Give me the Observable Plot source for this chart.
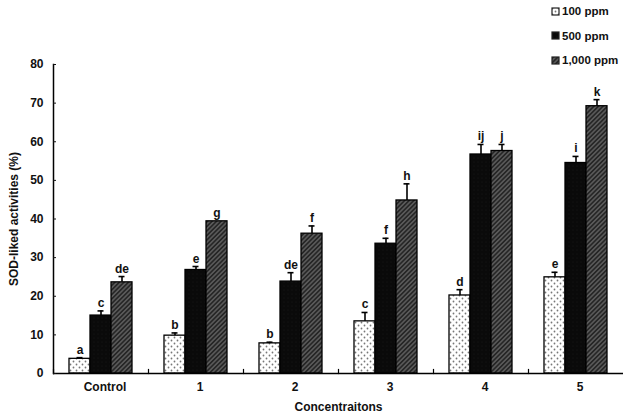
<!DOCTYPE html>
<html>
<head>
<meta charset="utf-8">
<script src="https://cdn.jsdelivr.net/npm/d3@7"></script>
<script src="https://cdn.jsdelivr.net/npm/@observablehq/plot@0.6"></script>
<style>
  html, body { margin: 0; padding: 0; background: #fff; }
  #wrap { position: relative; width: 627px; height: 418px; font-family: "Liberation Sans", Arial, sans-serif; }
  #legend { position: absolute; left: 551px; top: 3px; font-size: 11.5px; font-weight: bold; color: #111; }
  #legend .row { display: flex; align-items: center; height: 16px; margin-bottom: 8.5px; }
  #legend svg { margin-right: 2px; }
</style>
</head>
<body>
<div id="wrap"><div id="chart"></div><div id="legend"></div></div>
<script>
const groups = ["Control", "1", "2", "3", "4", "5"];
const series = ["100 ppm", "500 ppm", "1,000 ppm"];
const yTicks = [0, 10, 20, 30, 40, 50, 60, 70, 80];

const val100  = [3.8, 9.8, 7.8, 13.5, 20.2, 24.9];
const val500  = [15.0, 26.8, 23.8, 33.6, 56.7, 54.5];
const val1000 = [23.6, 39.4, 36.2, 44.8, 57.6, 69.2];

const err100  = [0.3, 0.7, 0.3, 2.3, 1.5, 1.3];
const err500  = [1.2, 0.9, 2.3, 1.4, 2.6, 1.7];
const err1000 = [1.5, 0.0, 2.0, 4.3, 1.7, 1.7];

const let100  = ["a", "b", "b", "c", "d", "e"];
const let500  = ["c", "e", "de", "f", "ij", "i"];
const let1000 = ["de", "g", "f", "h", "j", "k"];

const patternIds = ["p100", "p500", "p1000"];

const vals = [val100, val500, val1000];
const errs = [err100, err500, err1000];
const lets = [let100, let500, let1000];
const rows = [];
groups.forEach((g, gi) => series.forEach((s, si) => rows.push({
  group: g, series: s, value: vals[si][gi], err: errs[si][gi], letter: lets[si][gi], fill: `url(#${patternIds[si]})`
})));

const chart = Plot.plot({
  width: 627,
  height: 418,
  marginLeft: 53,
  marginRight: 4,
  marginTop: 64,
  marginBottom: 45,
  style: {fontFamily: "'Liberation Sans', Arial, sans-serif", fontSize: "11px", fontWeight: "bold", color: "#111", background: "#fff"},
  fx: {domain: groups, padding: 0},
  x: {domain: series, paddingInner: 0, paddingOuter: 0.74, axis: null},
  y: {domain: [0, 80]},
  color: {type: "identity"},
  marks: [
    Plot.barY(rows, {fx: "group", x: "series", y: "value", fill: "fill", stroke: "#000", strokeWidth: 1.3}),
    Plot.ruleX(rows.filter(d => d.err > 0), {fx: "group", x: "series", y1: "value", y2: d => d.value + d.err, stroke: "#000", strokeWidth: 1.6}),
    Plot.tickY(rows.filter(d => d.err > 0), {fx: "group", x: "series", y: d => d.value + d.err, stroke: "#000", strokeWidth: 1.6, insetLeft: 7.5, insetRight: 7.5}),
    Plot.text(rows, {fx: "group", x: "series", y: d => d.value + d.err, text: "letter", lineAnchor: "bottom", dy: -4, fontSize: 12, fontWeight: "bold"}),
    Plot.ruleY([0], {stroke: "#000", strokeWidth: 1.5}),
    Plot.frame({anchor: "left", insetTop: 305, stroke: "#000", strokeWidth: 1.2}),
    Plot.frame({anchor: "left", facetAnchor: "left", stroke: "#000", strokeWidth: 1.5}),
    Plot.axisY({ticks: yTicks, tickSize: -3, tickPadding: 13, tickFormat: d => String(d), label: "SOD-liked activities (%)", labelAnchor: "center", labelOffset: 44, labelArrow: "none", fontSize: 12, fontWeight: "bold"}),
    Plot.axisFx({anchor: "bottom", tickSize: 0, tickPadding: 9, dx: 4, label: "Concentraitons", labelAnchor: "center", labelOffset: 37, labelArrow: "none", fontSize: 12, fontWeight: "bold"})
  ]
});

// SVG patterns for the bar fills
const svg = d3.select(chart);
const defs = svg.insert("defs", ":first-child");
const pd = defs.append("pattern").attr("id", "p100").attr("patternUnits", "userSpaceOnUse").attr("width", 6).attr("height", 6);
pd.append("rect").attr("width", 6).attr("height", 6).attr("fill", "#fff");
pd.append("circle").attr("cx", 1.5).attr("cy", 1.5).attr("r", 0.9).attr("fill", "#777");
pd.append("circle").attr("cx", 4.5).attr("cy", 4.5).attr("r", 0.9).attr("fill", "#777");
const pb = defs.append("pattern").attr("id", "p500").attr("patternUnits", "userSpaceOnUse").attr("width", 4).attr("height", 4);
pb.append("rect").attr("width", 4).attr("height", 4).attr("fill", "#0a0a0a");
pb.append("circle").attr("cx", 2).attr("cy", 2).attr("r", 0.5).attr("fill", "#1c1c1c");
const ph = defs.append("pattern").attr("id", "p1000").attr("patternUnits", "userSpaceOnUse").attr("width", 3.2).attr("height", 3.2).attr("patternTransform", "rotate(45)");
ph.append("rect").attr("width", 3.2).attr("height", 3.2).attr("fill", "#262626");
ph.append("line").attr("x1", 0.8).attr("y1", 0).attr("x2", 0.8).attr("y2", 3.2).attr("stroke", "#808080").attr("stroke-width", 0.9);

document.getElementById("chart").appendChild(chart);

// Legend
const legend = d3.select("#legend");
series.forEach((s, i) => {
  const row = legend.append("div").attr("class", "row");
  const sw = row.append("svg").attr("width", 9).attr("height", 9);
  sw.append("rect").attr("x", 1).attr("y", 1).attr("width", 7).attr("height", 7)
    .attr("fill", `url(#${patternIds[i]})`).attr("stroke", "#222").attr("stroke-width", 1.2);
  row.append("span").text(s);
});
</script>
</body>
</html>
